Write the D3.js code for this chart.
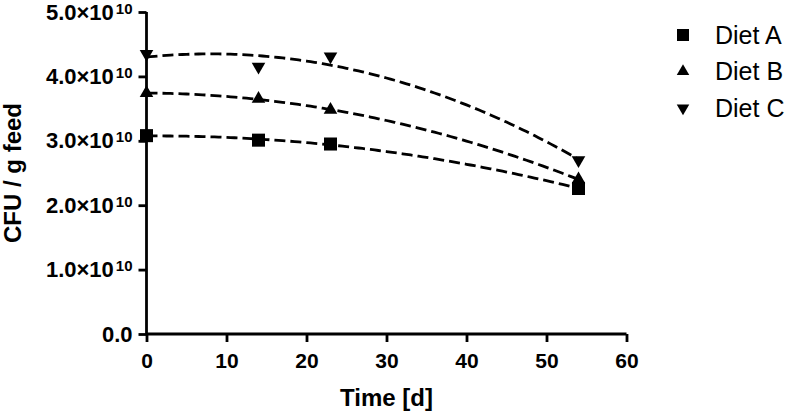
<!DOCTYPE html>
<html>
<head>
<meta charset="utf-8">
<script src="https://cdn.jsdelivr.net/npm/d3@7"></script>
<style>
  body { margin: 0; background: #fff; }
  text { font-family: Arial, "Liberation Sans", sans-serif; fill: #000; }
</style>
</head>
<body>
<div id="chart"></div>
<script>
// data
const days = [0, 14, 23, 54];
const dietA = [3.08e10, 3.01e10, 2.95e10, 2.26e10];
const dietB = [3.74e10, 3.65e10, 3.48e10, 2.40e10];
const dietC = [4.35e10, 4.15e10, 4.31e10, 2.70e10];
const seriesNames = ["Diet A", "Diet B", "Diet C"];
const xTicks = [0, 10, 20, 30, 40, 50, 60];
const yTicks = [0, 1e10, 2e10, 3e10, 4e10, 5e10];

const width = 787, height = 412;
const font = "Arial, 'Liberation Sans', sans-serif";
const svg = d3.select("#chart").append("svg")
    .attr("width", width)
    .attr("height", height);

const x = d3.scaleLinear().domain([0, 60]).range([146.5, 626.5]);
const y = d3.scaleLinear().domain([0, 5e10]).range([334, 12]);

// second order polynomial least squares fit
function quadFit(xs, ys) {
    const s = [0, 0, 0, 0, 0], t = [0, 0, 0];
    xs.forEach((xv, i) => {
        for (let k = 0; k < 5; k++) s[k] += Math.pow(xv, k);
        for (let k = 0; k < 3; k++) t[k] += ys[i] * Math.pow(xv, k);
    });
    const m = [[s[0], s[1], s[2], t[0]], [s[1], s[2], s[3], t[1]], [s[2], s[3], s[4], t[2]]];
    for (let i = 0; i < 3; i++) {
        for (let j = i + 1; j < 3; j++) {
            const f = m[j][i] / m[i][i];
            for (let k = i; k < 4; k++) m[j][k] -= f * m[i][k];
        }
    }
    const c = [0, 0, 0];
    for (let i = 2; i >= 0; i--) {
        let v = m[i][3];
        for (let k = i + 1; k < 3; k++) v -= m[i][k] * c[k];
        c[i] = v / m[i][i];
    }
    return xv => c[0] + c[1] * xv + c[2] * xv * xv;
}

const series = [
    { name: seriesNames[0], values: dietA, symbol: d3.symbolSquare, size: 170, rot: 0 },
    { name: seriesNames[1], values: dietB, symbol: d3.symbolTriangle, size: 80, rot: 0 },
    { name: seriesNames[2], values: dietC, symbol: d3.symbolTriangle, size: 80, rot: 180 }
];

// fitted dashed curves
const line = d3.line().x(d => x(d[0])).y(d => y(d[1]));
series.forEach(s => {
    const f = quadFit(days, s.values);
    const pts = d3.range(0, 54.01, 0.5).map(t => [t, f(t)]);
    svg.append("path")
        .datum(pts)
        .attr("fill", "none")
        .attr("stroke", "#000")
        .attr("stroke-width", 2.8)
        .attr("stroke-dasharray", "11,5")
        .attr("d", line);
});

// axes
const xAxis = svg.append("g")
    .attr("transform", `translate(0,${y(0)})`)
    .call(d3.axisBottom(x).tickValues(xTicks).tickSize(8).tickPadding(11).tickFormat(d3.format("d")));
const yAxis = svg.append("g")
    .attr("transform", `translate(${x(0)},0)`)
    .call(d3.axisLeft(y).tickValues(yTicks).tickSize(8).tickFormat(""));

[xAxis, yAxis].forEach(g => {
    g.select(".domain").attr("stroke-width", 2.8);
    g.selectAll(".tick line").attr("stroke-width", 2.8);
});
xAxis.select(".domain").attr("d", `M${x(0)},0H${x(60)}`);
yAxis.select(".domain").attr("d", `M0,${y(0)}V${y(5e10)}`);

xAxis.selectAll(".tick text")
    .attr("font-size", 21)
    .attr("font-weight", "bold")
    .style("font-family", font);

// y tick labels as mantissa x 10^exponent
yAxis.selectAll(".tick").each(function (d) {
    const t = d3.select(this).append("text")
        .attr("x", -14)
        .attr("dy", "0.32em")
        .attr("text-anchor", "end")
        .attr("font-size", 22)
        .attr("font-weight", "bold")
        .style("font-family", font);
    if (d === 0) {
        t.text("0.0");
    } else {
        t.append("tspan").text((d / 1e10).toFixed(1) + "\u00d710");
        t.append("tspan").attr("dx", 2).attr("dy", "-0.4em").attr("font-size", 15).text("10");
    }
});

// markers
series.forEach(s => {
    svg.append("g").selectAll("path")
        .data(days.map((dd, i) => [dd, s.values[i]]))
        .join("path")
        .attr("d", d3.symbol().type(s.symbol).size(s.size))
        .attr("transform", d => `translate(${x(d[0])},${y(d[1])}) rotate(${s.rot})`)
        .attr("fill", "#000");
});

// axis titles
svg.append("text")
    .attr("x", x(30))
    .attr("y", 406)
    .attr("text-anchor", "middle")
    .attr("font-size", 24)
    .attr("font-weight", "bold")
    .text("Time [d]");

svg.append("text")
    .attr("transform", `translate(21,${y(2.5e10)}) rotate(-90)`)
    .attr("text-anchor", "middle")
    .attr("font-size", 24)
    .attr("font-weight", "bold")
    .text("CFU / g feed");

// legend
const legend = svg.append("g").attr("transform", "translate(683,35)");
series.forEach((s, i) => {
    const row = legend.append("g").attr("transform", `translate(0,${i * 36.5})`);
    row.append("path")
        .attr("d", d3.symbol().type(s.symbol).size(s.size * 0.85))
        .attr("transform", `rotate(${s.rot})`)
        .attr("fill", "#000");
    row.append("text")
        .attr("x", 32)
        .attr("dy", "0.35em")
        .attr("font-size", 25)
        .text(s.name);
});
</script>
</body>
</html>
